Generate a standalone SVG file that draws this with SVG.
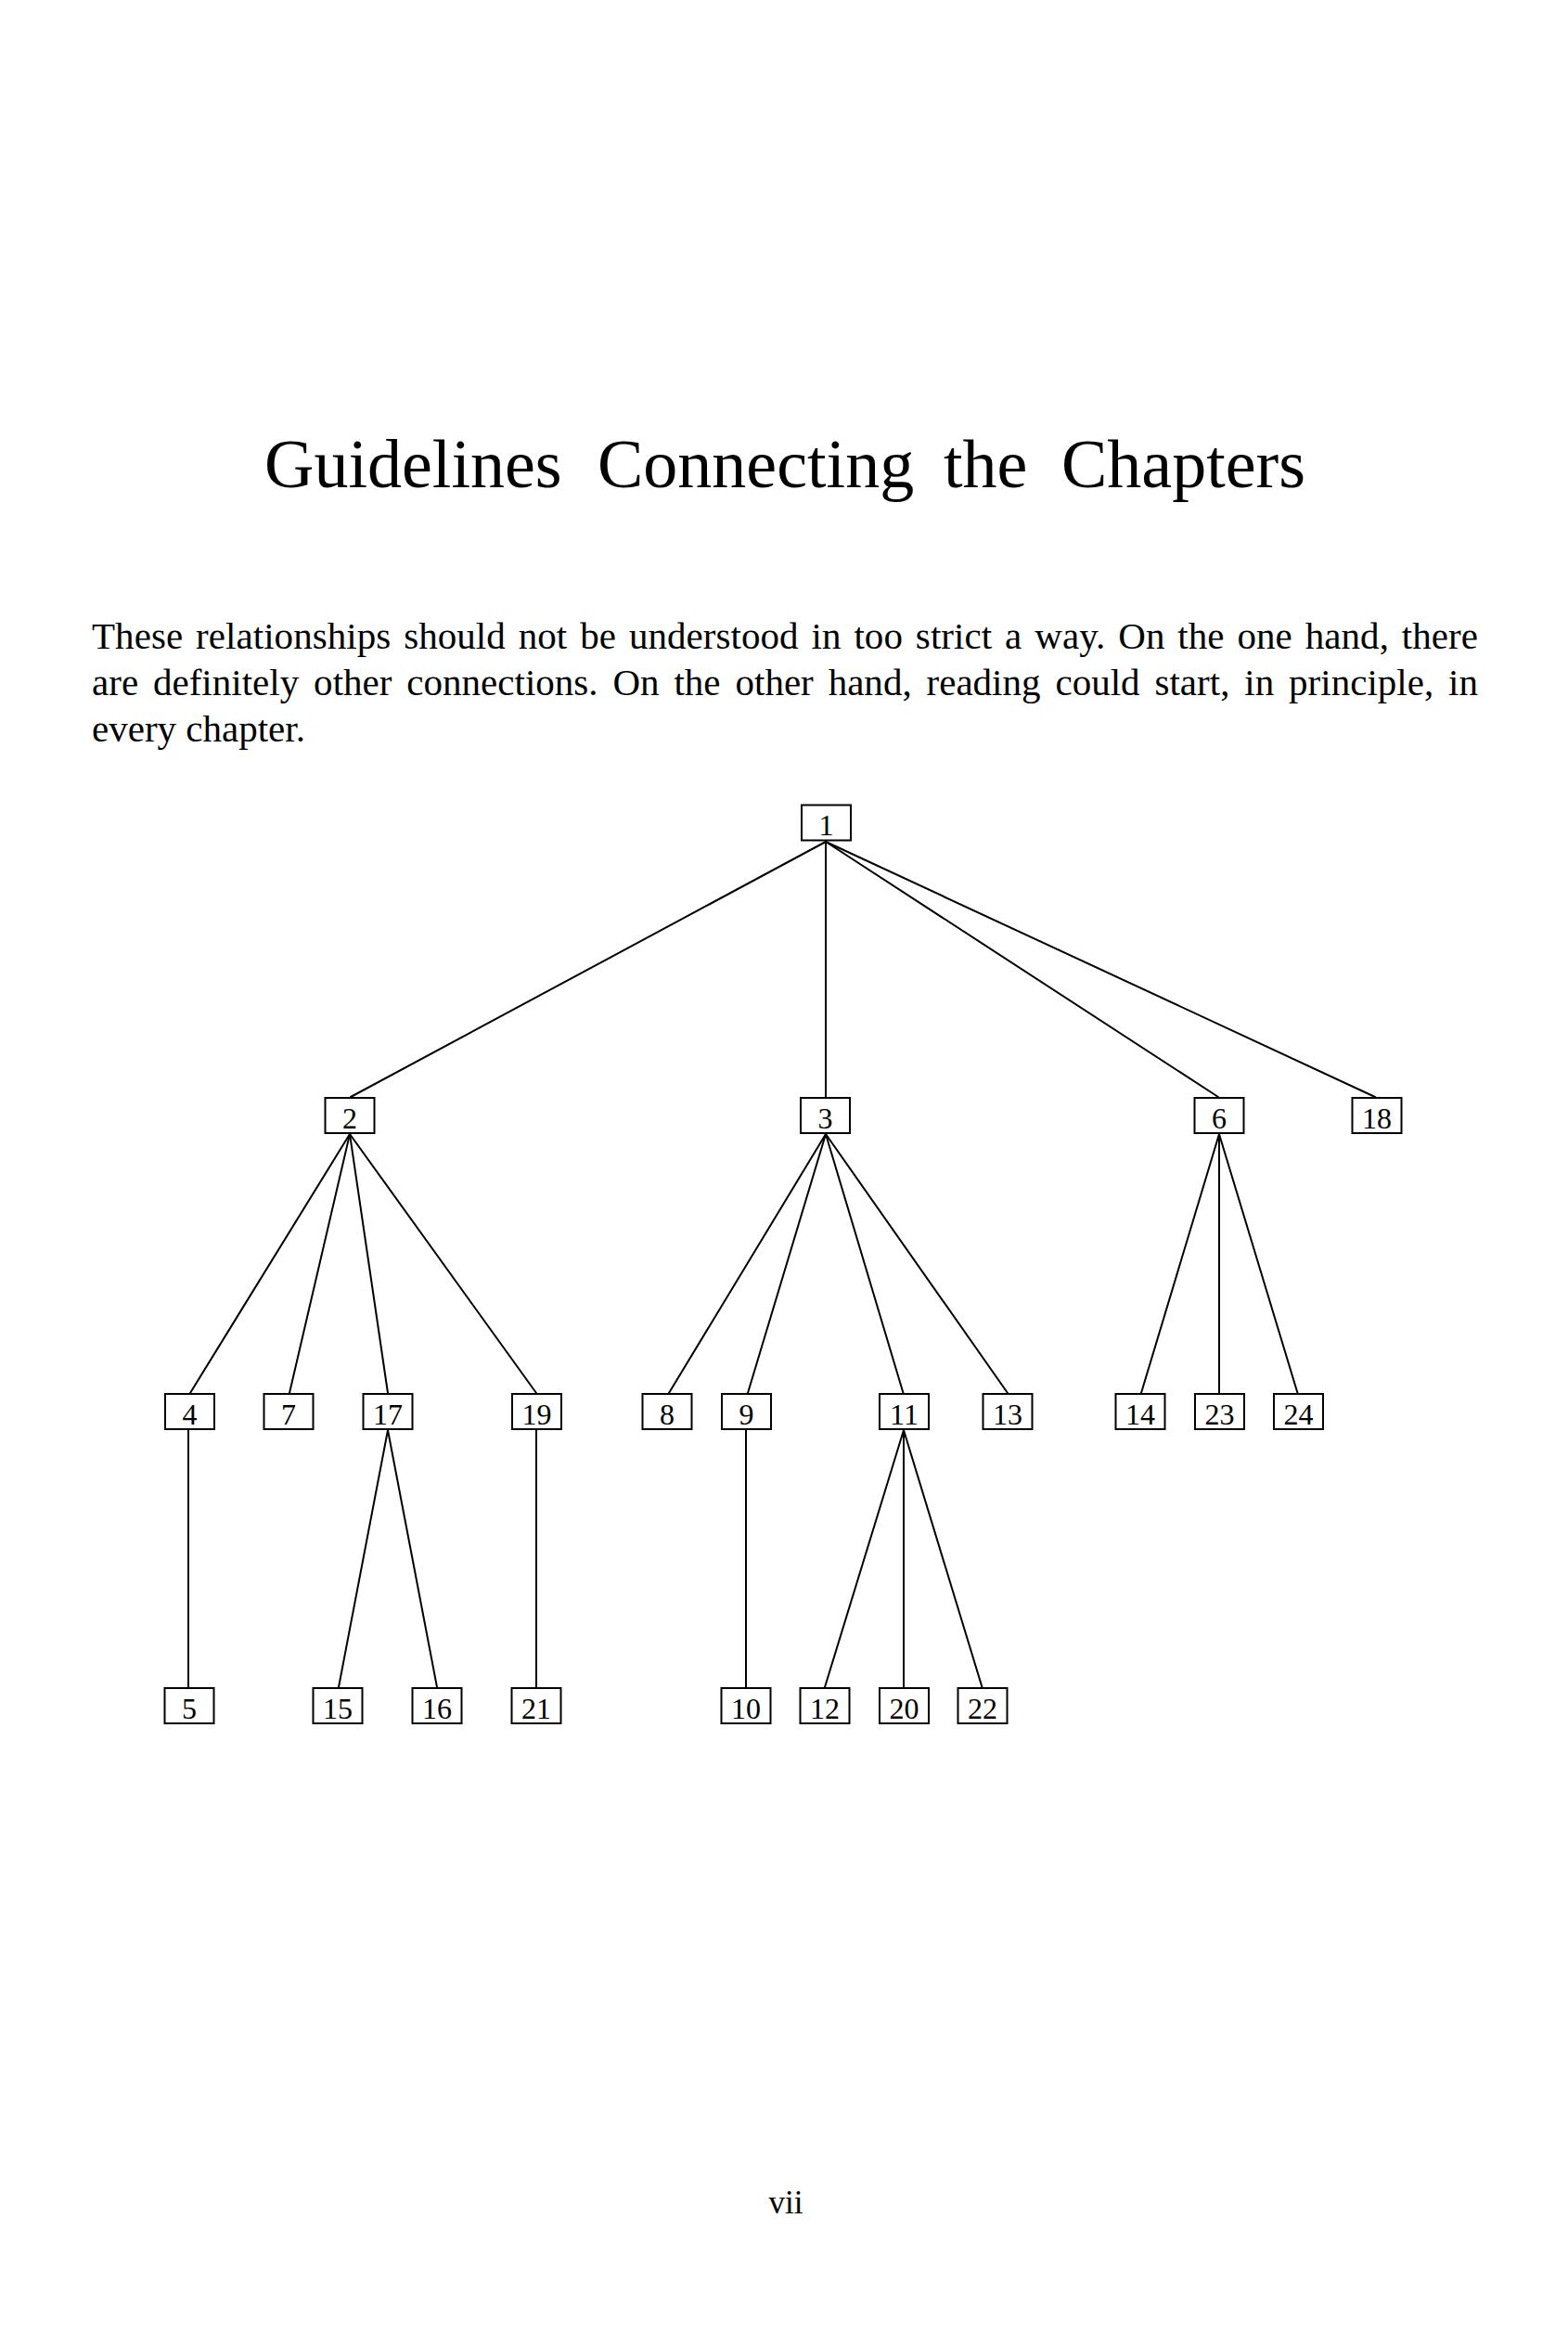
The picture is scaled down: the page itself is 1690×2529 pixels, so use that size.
<svg xmlns="http://www.w3.org/2000/svg" width="1690" height="2529" viewBox="0 0 1690 2529">
<style>
text{font-family:"Liberation Serif","Times New Roman",serif;fill:#000}
.title{font-size:74px}
.body{font-size:41px}
.pg{font-size:35px}
.node rect{fill:#fff;stroke:#000;stroke-width:2}
.node text{font-size:32px;text-anchor:middle}
#connectors line{stroke:#000;stroke-width:2;stroke-linecap:round}
</style>
<rect x="0" y="0" width="1690" height="2529" fill="#fff"/>
<text class="title" y="525"><tspan x="285">Guidelines</tspan><tspan x="644">Connecting</tspan><tspan x="1017">the</tspan><tspan x="1144">Chapters</tspan></text>
<text class="body" x="99" y="699" word-spacing="3.6" textLength="1494" lengthAdjust="spacing">These relationships should not be understood in too strict a way. On the one hand, there</text>
<text class="body" x="99" y="749" word-spacing="5.6" textLength="1494" lengthAdjust="spacing">are definitely other connections. On the other hand, reading could start, in principle, in</text>
<text class="body" x="99" y="799">every chapter.</text>
<g id="connectors">
<line x1="890" y1="907" x2="378" y2="1182"/>
<line x1="890" y1="907" x2="890" y2="1182"/>
<line x1="890" y1="907" x2="1313" y2="1182"/>
<line x1="890" y1="907" x2="1482" y2="1182"/>
<line x1="377" y1="1222" x2="205" y2="1501"/>
<line x1="377" y1="1222" x2="312" y2="1501"/>
<line x1="377" y1="1222" x2="418" y2="1501"/>
<line x1="377" y1="1222" x2="578" y2="1501"/>
<line x1="890" y1="1222" x2="721" y2="1501"/>
<line x1="890" y1="1222" x2="806" y2="1501"/>
<line x1="890" y1="1222" x2="973.5" y2="1501"/>
<line x1="890" y1="1222" x2="1086" y2="1501"/>
<line x1="1314" y1="1222" x2="1230" y2="1501"/>
<line x1="1314" y1="1222" x2="1314" y2="1501"/>
<line x1="1314" y1="1222" x2="1398.5" y2="1501"/>
<line x1="203" y1="1541" x2="203" y2="1818"/>
<line x1="418" y1="1541" x2="365" y2="1818"/>
<line x1="418" y1="1541" x2="471" y2="1818"/>
<line x1="578" y1="1541" x2="578" y2="1818"/>
<line x1="804" y1="1541" x2="804" y2="1818"/>
<line x1="974" y1="1541" x2="889" y2="1818"/>
<line x1="974" y1="1541" x2="974" y2="1818"/>
<line x1="974" y1="1541" x2="1058.5" y2="1818"/>
</g>
<g id="n1" class="node"><rect x="864" y="867.5" width="53" height="38"/><text x="890.5" y="900">1</text></g>
<g id="n2" class="node"><rect x="350.5" y="1183" width="53" height="38"/><text x="377" y="1215.5">2</text></g>
<g id="n3" class="node"><rect x="863" y="1183" width="53" height="38"/><text x="889.5" y="1215.5">3</text></g>
<g id="n6" class="node"><rect x="1287.5" y="1183" width="53" height="38"/><text x="1314" y="1215.5">6</text></g>
<g id="n18" class="node"><rect x="1457.5" y="1183" width="53" height="38"/><text x="1484" y="1215.5">18</text></g>
<g id="n4" class="node"><rect x="178" y="1502" width="53" height="38"/><text x="204.5" y="1534.5">4</text></g>
<g id="n7" class="node"><rect x="284.5" y="1502" width="53" height="38"/><text x="311" y="1534.5">7</text></g>
<g id="n17" class="node"><rect x="391.5" y="1502" width="53" height="38"/><text x="418" y="1534.5">17</text></g>
<g id="n19" class="node"><rect x="552" y="1502" width="53" height="38"/><text x="578.5" y="1534.5">19</text></g>
<g id="n8" class="node"><rect x="692.5" y="1502" width="53" height="38"/><text x="719" y="1534.5">8</text></g>
<g id="n9" class="node"><rect x="778" y="1502" width="53" height="38"/><text x="804.5" y="1534.5">9</text></g>
<g id="n11" class="node"><rect x="948" y="1502" width="53" height="38"/><text x="974.5" y="1534.5">11</text></g>
<g id="n13" class="node"><rect x="1059.5" y="1502" width="53" height="38"/><text x="1086" y="1534.5">13</text></g>
<g id="n14" class="node"><rect x="1202.5" y="1502" width="53" height="38"/><text x="1229" y="1534.5">14</text></g>
<g id="n23" class="node"><rect x="1288" y="1502" width="53" height="38"/><text x="1314.5" y="1534.5">23</text></g>
<g id="n24" class="node"><rect x="1373" y="1502" width="53" height="38"/><text x="1399.5" y="1534.5">24</text></g>
<g id="n5" class="node"><rect x="177.5" y="1819" width="53" height="38"/><text x="204" y="1851.5">5</text></g>
<g id="n15" class="node"><rect x="337.5" y="1819" width="53" height="38"/><text x="364" y="1851.5">15</text></g>
<g id="n16" class="node"><rect x="444.5" y="1819" width="53" height="38"/><text x="471" y="1851.5">16</text></g>
<g id="n21" class="node"><rect x="551.5" y="1819" width="53" height="38"/><text x="578" y="1851.5">21</text></g>
<g id="n10" class="node"><rect x="777.5" y="1819" width="53" height="38"/><text x="804" y="1851.5">10</text></g>
<g id="n12" class="node"><rect x="862.5" y="1819" width="53" height="38"/><text x="889" y="1851.5">12</text></g>
<g id="n20" class="node"><rect x="948" y="1819" width="53" height="38"/><text x="974.5" y="1851.5">20</text></g>
<g id="n22" class="node"><rect x="1032.5" y="1819" width="53" height="38"/><text x="1059" y="1851.5">22</text></g>
<text class="pg" x="847" y="2385" text-anchor="middle">vii</text>
</svg>
